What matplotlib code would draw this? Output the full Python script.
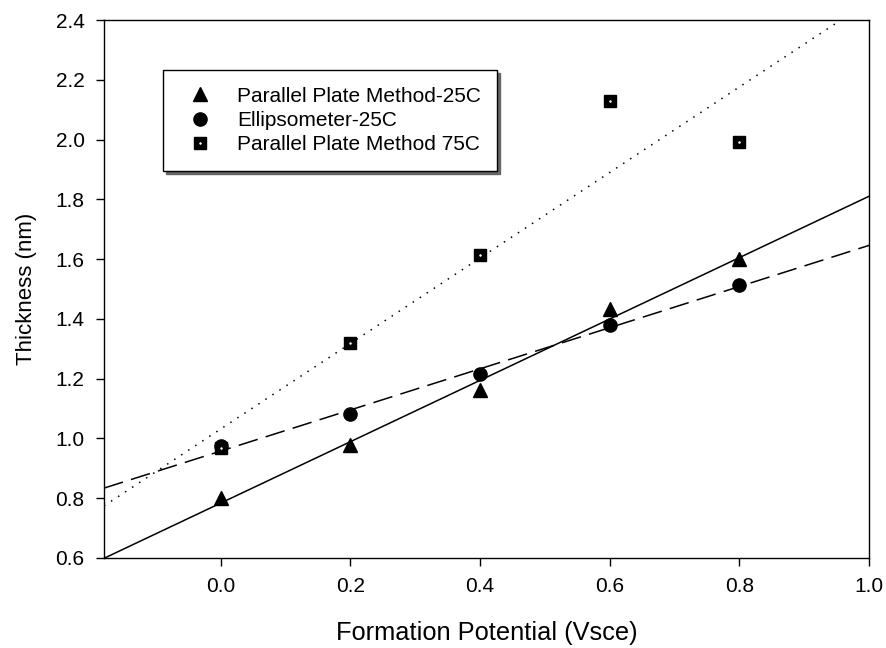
import numpy as np
import matplotlib
matplotlib.use('Agg')
import matplotlib.pyplot as plt

plt.rcParams['font.family'] = ['Liberation Sans', 'DejaVu Sans']

# data
potential = [0.0, 0.2, 0.4, 0.6, 0.8]
pp_25c = [0.80, 0.978, 1.162, 1.432, 1.600]
ellips_25c = [0.975, 1.082, 1.214, 1.379, 1.515]
pp_75c = [0.967, 1.318, 1.613, 2.130, 1.992]

labels = ['Parallel Plate Method-25C', 'Ellipsometer-25C', 'Parallel Plate Method 75C']
x_ticks = [0.0, 0.2, 0.4, 0.6, 0.8, 1.0]
y_ticks = [0.6, 0.8, 1.0, 1.2, 1.4, 1.6, 1.8, 2.0, 2.2, 2.4]
x_range = (-0.18, 1.0)
y_range = (0.6, 2.4)


def fit_line(x, y):
    slope, icpt = np.polyfit(x, y, 1)
    xs = np.array(x_range)
    return xs, slope * xs + icpt


def main():
    fig = plt.figure(figsize=(8.86, 6.48), dpi=100)
    ax = fig.add_axes([0.1174, 0.139, 0.8636, 0.830])

    # regression lines
    xs, ys = fit_line(potential, pp_25c)
    ax.plot(xs, ys, '-', color='black', lw=1.1)
    xs, ys = fit_line(potential, ellips_25c)
    ax.plot(xs, ys, color='black', lw=1.1, dashes=(13, 5.5))
    xs, ys = fit_line(potential, pp_75c)
    ax.plot(xs, ys, color='black', lw=1.1, dashes=(1, 4.5))

    # markers
    h1, = ax.plot(potential, pp_25c, '^', color='black', ms=9.5, ls='none')
    h2, = ax.plot(potential, ellips_25c, 'o', color='black', ms=9.5, ls='none')
    h3, = ax.plot(potential, pp_75c, 's', color='black', ms=8.5, ls='none')
    h3b, = ax.plot(potential, pp_75c, 'o', color='white', ms=1.3, mew=0.4, ls='none')

    ax.set_xlim(*x_range)
    ax.set_ylim(*y_range)
    ax.set_xticks(x_ticks)
    ax.set_yticks(y_ticks)
    ax.set_xticklabels(['%.1f' % v for v in x_ticks])
    ax.set_yticklabels(['%.1f' % v for v in y_ticks])
    ax.tick_params(direction='out', length=6, width=1, labelsize=15, pad=8)
    for sp in ax.spines.values():
        sp.set_linewidth(1.0)

    ax.set_xlabel('Formation Potential (Vsce)', fontsize=18.3, labelpad=18)
    ax.set_ylabel('Thickness (nm)', fontsize=16, labelpad=13)

    leg = ax.legend([h1, h2, (h3, h3b)], labels, loc='upper left',
                    bbox_to_anchor=(0.077, 0.907), fontsize=15.0,
                    frameon=True, fancybox=False, shadow={'color': '0.4', 'alpha': 1},
                    borderpad=0.8, labelspacing=0.25, handlelength=2.0,
                    handletextpad=0.75, borderaxespad=0.0)
    leg.get_frame().set_edgecolor('black')
    leg.get_frame().set_linewidth(1.0)

    fig.savefig('out.png', dpi=100)


if __name__ == '__main__':
    main()
